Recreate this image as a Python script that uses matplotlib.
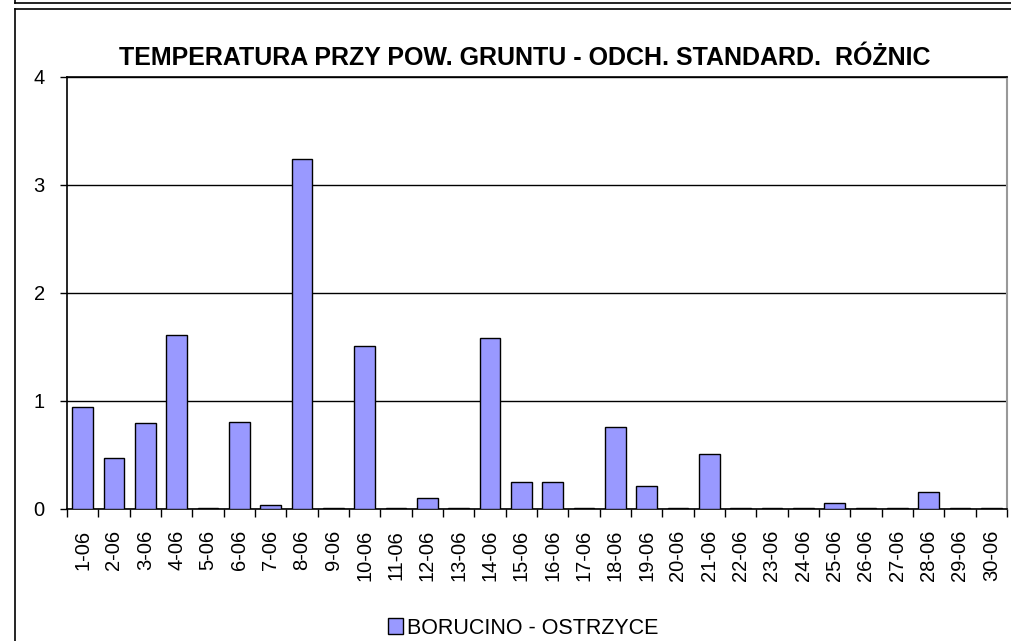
# -*- coding: utf-8 -*-
"""
Odchylenie standardowe roznic temperatury przy gruncie, czerwiec.
"""
import numpy as np
import matplotlib
matplotlib.use('Agg')
import matplotlib.pyplot as plt
from matplotlib.lines import Line2D
from matplotlib.patches import Patch

days = ['%d-06' % d for d in range(1, 31)]
std_diff = [0.94, 0.47, 0.80, 1.61, 0.01, 0.81, 0.035, 3.24, 0.01, 1.51,
            0.01, 0.10, 0.01, 1.58, 0.25, 0.25, 0.01, 0.76, 0.21, 0.01,
            0.51, 0.01, 0.01, 0.01, 0.055, 0.01, 0.01, 0.16, 0.01, 0.01]
series_name = 'BORUCINO - OSTRZYCE'
title = 'TEMPERATURA PRZY POW. GRUNTU - ODCH. STANDARD.  RÓŻNIC'

plt.rcParams['font.family'] = ['Liberation Sans', 'DejaVu Sans']

W, H = 1011, 641
fig = plt.figure(figsize=(W / 100, H / 100), dpi=100)
ax = fig.add_axes([67 / W, 1 - 509 / H, (1007 - 67) / W, (509 - 77) / H])

x = np.arange(len(days))
ax.bar(x, std_diff, width=0.66, color='#9999ff', edgecolor='black', linewidth=1, zorder=3)

ax.set_xlim(-0.5, len(days) - 0.5)
ax.set_ylim(0, 4)
ax.set_yticks([0, 1, 2, 3, 4])
ax.yaxis.grid(True, color='black', linewidth=1, zorder=0)
ax.tick_params(axis='y', length=5, width=1, labelsize=14.5, pad=11)

# category labels sit between boundary ticks
ax.set_xticks(x)
ax.set_xticklabels(days, rotation=90, fontsize=14.5)
ax.tick_params(axis='x', which='major', length=0, pad=15)
ax.set_xticks(np.arange(len(days) + 1) - 0.5, minor=True)
ax.tick_params(axis='x', which='minor', length=6, width=1)

for s in ['left', 'bottom', 'top']:
    ax.spines[s].set_color('black')
    ax.spines[s].set_linewidth(1.2)
ax.spines['right'].set_color('#999999')
ax.spines['right'].set_linewidth(1.5)

fig.text(525 / W, 1 - 58 / H, title, ha='center', va='center',
         fontsize=18, fontweight='bold')

fig.legend(handles=[Patch(facecolor='#9999ff', edgecolor='black', label=series_name)],
           loc='center', bbox_to_anchor=(523 / W, 1 - 628 / H), frameon=False,
           fontsize=15.5, handlelength=0.7, handleheight=0.7, handletextpad=0.2)

# outer chart frame
fig.add_artist(Line2D([15 / W, 15 / W], [0, 1 - 9 / H], color='black', lw=1.2))
fig.add_artist(Line2D([15 / W, 1], [1 - 9 / H, 1 - 9 / H], color='black', lw=1.2))
fig.add_artist(Line2D([15 / W, 1], [1 - 3 / H, 1 - 3 / H], color='black', lw=1.2))
fig.add_artist(Line2D([15 / W, 15 / W], [1 - 3 / H, 1], color='black', lw=1.2))

fig.savefig('out.png', dpi=100)
